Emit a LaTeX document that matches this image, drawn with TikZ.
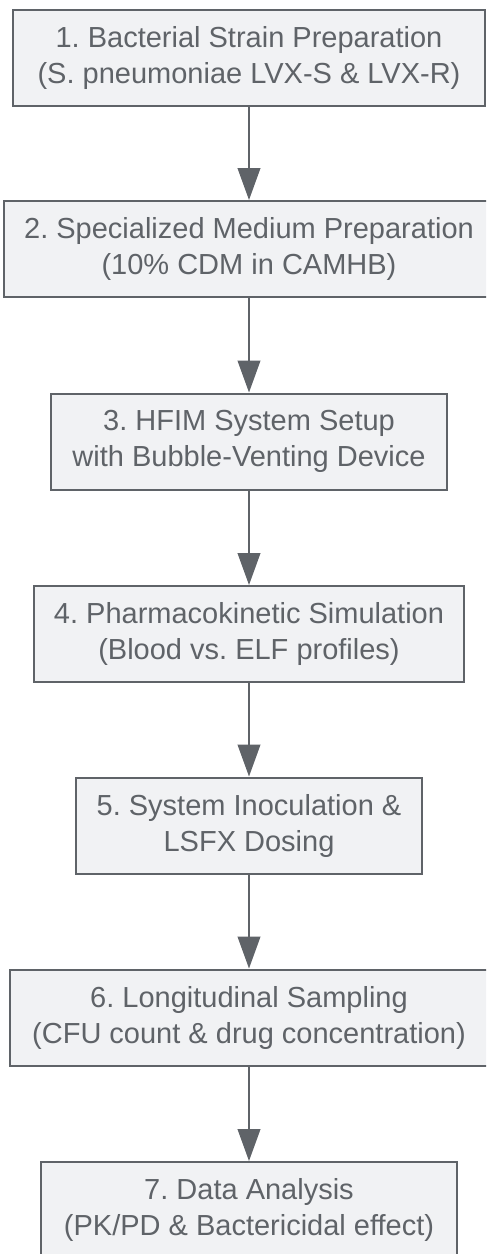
\documentclass[tikz,border=0pt]{standalone}
\usepackage{fontspec}
\setmainfont{Liberation Sans}
\usetikzlibrary{arrows.meta}
\definecolor{boxfill}{HTML}{F1F2F4}
\definecolor{boxline}{HTML}{5F6368}
\definecolor{boxtext}{HTML}{5F6368}
\frenchspacing
\tikzset{
  stepbox/.style={draw=boxline, fill=boxfill, line width=1.5pt, align=center,
    text=boxtext, minimum height=72pt, inner sep=0pt,
    font=\fontsize{21.75pt}{27pt}\selectfont\frenchspacing},
  flowarrow/.style={draw=boxline, line width=1.5pt,
    -{Triangle[length=24pt,width=17pt]}}
}
\begin{document}
\begin{tikzpicture}[x=0.75pt,y=-0.75pt]
\useasboundingbox (0,0) rectangle (486,1254);
\clip (0,0) rectangle (486,1254);
\fill[white] (0,0) rectangle (486,1254);
\node[stepbox, minimum width=354pt] (s1) at (249,58) {1. Bacterial Strain Preparation\\(S. pneumoniae LVX-S \& LVX-R)};
\node[stepbox, minimum width=367.5pt] (s2) at (249,249) {2. Specialized Medium Preparation\\(10\% CDM in CAMHB)};
\node[stepbox, minimum width=297pt] (s3) at (249,441.5) {3. HFIM System Setup\\with Bubble-Venting Device};
\node[stepbox, minimum width=322.5pt] (s4) at (249,634) {4. Pharmacokinetic Simulation\\(Blood vs. ELF profiles)};
\node[stepbox, minimum width=259.5pt] (s5) at (249,825.5) {5. System Inoculation \&\\LSFX Dosing};
\node[stepbox, minimum width=358.5pt] (s6) at (249,1017.5) {6. Longitudinal Sampling\\(CFU count \& drug concentration)};
\node[stepbox, minimum width=312pt] (s7) at (249,1210) {7. Data Analysis\\(PK/PD \& Bactericidal effect)};
\draw[flowarrow] (s1) -- (s2);
\draw[flowarrow] (s2) -- (s3);
\draw[flowarrow] (s3) -- (s4);
\draw[flowarrow] (s4) -- (s5);
\draw[flowarrow] (s5) -- (s6);
\draw[flowarrow] (s6) -- (s7);
\end{tikzpicture}
\end{document}
